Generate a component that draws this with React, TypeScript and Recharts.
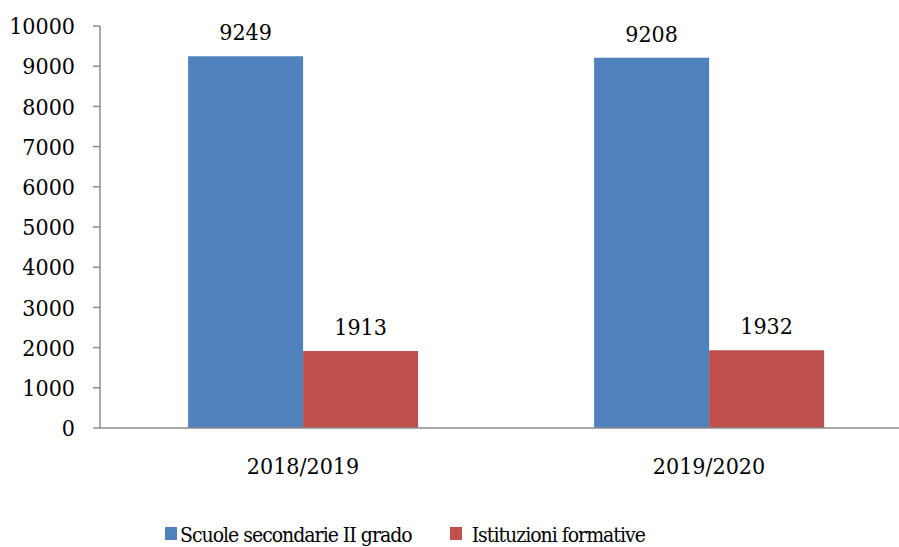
import { BarChart, Bar, XAxis, YAxis, LabelList } from "recharts";

const years = ["2018/2019", "2019/2020"];
const scuole = [9249, 9208];
const istituzioni = [1913, 1932];
const yTicks = [0, 1000, 2000, 3000, 4000, 5000, 6000, 7000, 8000, 9000, 10000];

const series = [
  { key: "scuole", name: "Scuole secondarie II grado", color: "#4F81BD", gap: 3 },
  { key: "istituzioni", name: "Istituzioni formative", color: "#C0504D", gap: 10 },
];

const data = years.map((y, i) => ({ year: y, scuole: scuole[i], istituzioni: istituzioni[i] }));

const AXIS = "#8C8C8C";
const FONT = "'DejaVu Serif Condensed', 'DejaVu Serif', serif";
const FS = 23;
const tickStyle = { fill: "#000", fontSize: FS, fontFamily: FONT, fontStretch: "condensed" };

export default function App() {
  return (
    <div
      style={{
        position: "absolute",
        left: 0,
        top: 0,
        width: 899,
        height: 547,
        overflow: "hidden",
        background: "#fff",
        fontFamily: FONT,
      }}
    >
      <BarChart
        width={920}
        height={547}
        data={data}
        margin={{ top: 26, right: 8, left: 0, bottom: 0 }}
        barCategoryGap="21.7%"
        barGap={0}
        style={{ fontFamily: FONT }}
      >
        {/* boundary ticks like Excel: between categories */}
        <XAxis
          xAxisId="edges"
          type="number"
          domain={[0, years.length]}
          ticks={years.map((_, i) => i).concat(years.length)}
          height={0}
          tick={false}
          tickSize={8}
          axisLine={false}
          tickLine={{ stroke: AXIS, strokeWidth: 1.5 }}
        />
        <XAxis
          dataKey="year"
          height={119}
          tickSize={0}
          tickMargin={30}
          tick={tickStyle}
          axisLine={{ stroke: AXIS, strokeWidth: 1.5 }}
          tickLine={false}
        />
        <YAxis
          width={100}
          domain={[0, 10000]}
          ticks={yTicks}
          interval={0}
          tickSize={7}
          tickMargin={18}
          tick={tickStyle}
          axisLine={{ stroke: AXIS, strokeWidth: 1.5 }}
          tickLine={{ stroke: AXIS, strokeWidth: 1.5 }}
        />
        {series.map((s) => (
          <Bar key={s.key} dataKey={s.key} name={s.name} fill={s.color} isAnimationActive={false}>
            <LabelList dataKey={s.key} position="top" offset={16} style={tickStyle} />
          </Bar>
        ))}
      </BarChart>
      <div
        style={{
          position: "absolute",
          left: 165,
          top: 523,
          display: "flex",
          alignItems: "flex-start",
          fontSize: 21,
          fontStretch: "condensed",
          letterSpacing: -1,
          lineHeight: "25px",
          color: "#000",
          whiteSpace: "nowrap",
        }}
      >
        {series.map((s, i) => (
          <div key={s.key} style={{ display: "flex", alignItems: "flex-start", marginLeft: i ? 38 : 0 }}>
            <span style={{ width: 12, height: 13, marginTop: 4, marginRight: s.gap, background: s.color }} />
            <span>{s.name}</span>
          </div>
        ))}
      </div>
    </div>
  );
}
